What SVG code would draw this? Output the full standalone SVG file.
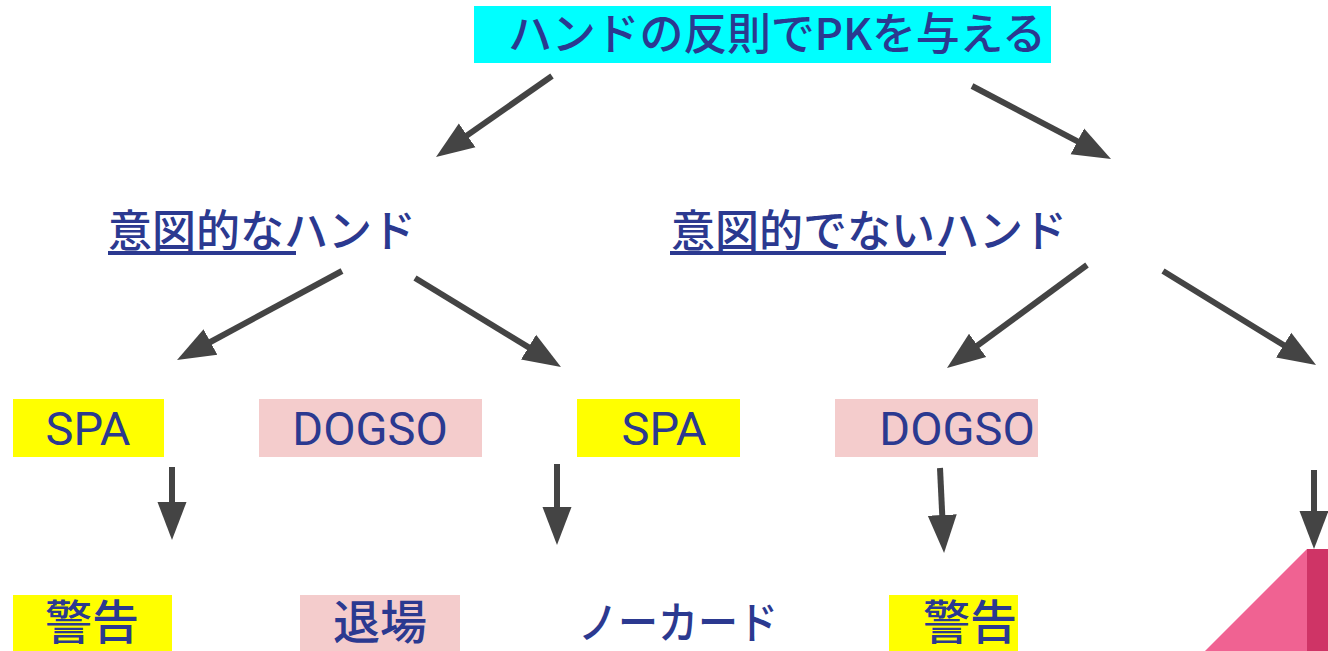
<svg xmlns="http://www.w3.org/2000/svg" width="1328" height="651" viewBox="0 0 1328 651">
<style>
.t{font-family:"Noto Sans CJK JP","Noto Sans",sans-serif;fill:#2B3990;font-size:44px;font-weight:500}
.l{font-family:Roboto,"Noto Sans CJK JP",sans-serif;fill:#2B3990;font-size:47px}
.b{font-family:"Noto Sans CJK JP",sans-serif;fill:#2B3990;font-size:47px;font-weight:500}
.n{font-family:"Noto Sans CJK JP",sans-serif;fill:#2B3990;font-size:44px;font-weight:500}
.c{stroke:#444444;stroke-width:6;fill:none}
.u{stroke:#2B3990;stroke-width:4}
</style>
<defs>
<marker id="ah" markerUnits="userSpaceOnUse" markerWidth="40" markerHeight="32" viewBox="0 -16 40 32" refX="18" refY="0" orient="auto">
<path d="M0,-14.5 L38,0 L0,14.5 z" fill="#444444"/>
</marker>
</defs>
<rect width="1328" height="651" fill="#ffffff"/>
<g id="title">
<rect x="474" y="6" width="577" height="57" fill="#00FFFF"/>
<text class="t" x="508" y="50" textLength="538">ハンドの反則でPKを与える</text>
</g>
<g id="intentional">
<text class="t" x="108" y="247">意図的なハンド</text>
<line class="u" x1="108" y1="253" x2="296" y2="253"/>
</g>
<g id="unintentional">
<text class="t" x="671" y="247">意図的でないハンド</text>
<line class="u" x1="670" y1="253" x2="946" y2="253"/>
</g>
<g id="spa1">
<rect x="13" y="399" width="151" height="58" fill="#FFFF00"/>
<text class="l" x="88" y="445" text-anchor="middle">SPA</text>
</g>
<g id="dogso1">
<rect x="259" y="399" width="223" height="58" fill="#F4CCCC"/>
<text class="l" x="370" y="445" text-anchor="middle">DOGSO</text>
</g>
<g id="spa2">
<rect x="577" y="399" width="163" height="58" fill="#FFFF00"/>
<text class="l" x="664" y="445" text-anchor="middle">SPA</text>
</g>
<g id="dogso2">
<rect x="835" y="399" width="203" height="58" fill="#F4CCCC"/>
<text class="l" x="957" y="445" text-anchor="middle">DOGSO</text>
</g>
<g id="caution1">
<rect x="13" y="595" width="159" height="56" fill="#FFFF00"/>
<text class="b" x="92" y="639" text-anchor="middle">警告</text>
</g>
<g id="sendoff">
<rect x="300" y="595" width="160" height="56" fill="#F4CCCC"/>
<text class="b" x="380" y="639" text-anchor="middle">退場</text>
</g>
<g id="nocard">
<text class="n" x="578" y="639" textLength="200" lengthAdjust="spacingAndGlyphs">ノーカード</text>
</g>
<g id="caution2">
<rect x="889" y="595" width="129" height="56" fill="#FFFF00"/>
<text class="b" x="970" y="639" text-anchor="middle">警告</text>
</g>
<g id="corner">
<rect x="1307" y="549" width="21" height="102" fill="#CF3466"/>
<polygon points="1307,549 1307,651 1205,651" fill="#F06292"/>
</g>
<g id="connectors">
<line class="c" x1="552" y1="76" x2="452.4" y2="145.6" marker-end="url(#ah)"/>
<line class="c" x1="972" y1="86" x2="1093.3" y2="149.7" marker-end="url(#ah)"/>
<line class="c" x1="342" y1="271" x2="194.6" y2="350.5" marker-end="url(#ah)"/>
<line class="c" x1="415" y1="278" x2="543.9" y2="356.6" marker-end="url(#ah)"/>
<line class="c" x1="1087" y1="265" x2="963.1" y2="356.1" marker-end="url(#ah)"/>
<line class="c" x1="1163" y1="271" x2="1299" y2="354.5" marker-end="url(#ah)"/>
<line class="c" x1="172" y1="467" x2="172" y2="520" marker-end="url(#ah)"/>
<line class="c" x1="557" y1="464" x2="557" y2="525" marker-end="url(#ah)"/>
<line class="c" x1="940" y1="468" x2="943.1" y2="533" marker-end="url(#ah)"/>
<line class="c" x1="1314" y1="470" x2="1314" y2="529" marker-end="url(#ah)"/>
</g>
</svg>
